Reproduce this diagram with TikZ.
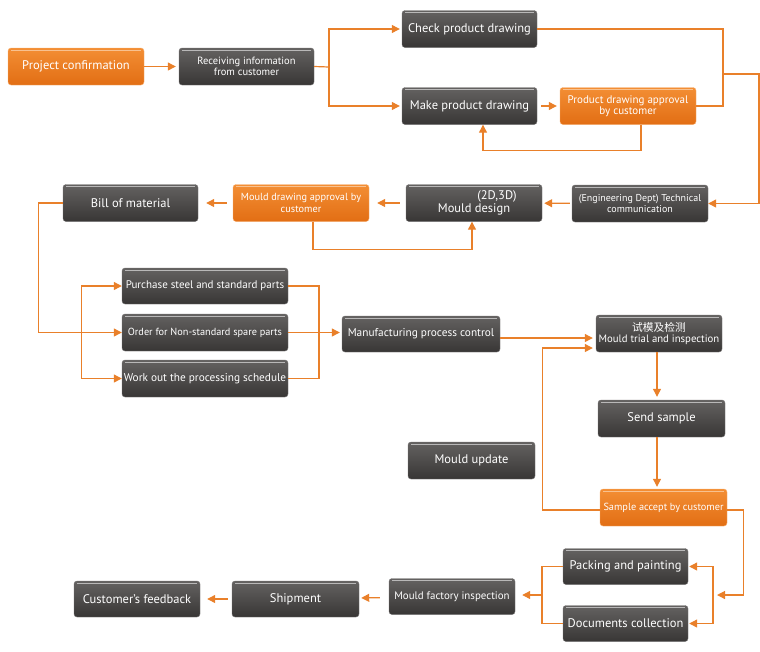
\documentclass[tikz,border=0pt]{standalone}
\usepackage{fontspec}
\setmainfont{PT Sans}
\newfontfamily\cjk{Noto Sans CJK SC}
\usetikzlibrary{arrows.meta,calc}
\definecolor{orangeline}{RGB}{233,128,42}
\definecolor{darktop}{RGB}{100,98,97}
\definecolor{darkbot}{RGB}{56,54,53}
\definecolor{orangetop}{RGB}{243,142,52}
\definecolor{orangebot}{RGB}{226,110,20}
\tikzstyle{box}=[rounded corners=3pt, minimum height=37pt, text=white, align=center, inner sep=1pt, font=\fontsize{12.5}{13}\selectfont]
\tikzstyle{dark}=[box, top color=darktop, bottom color=darkbot, draw=darkbot!70!white,
	path picture={\draw[white!55!darktop, line width=.7pt] ([xshift=3pt,yshift=-2pt]path picture bounding box.north west) -- ([xshift=-3pt,yshift=-2pt]path picture bounding box.north east);}]
\tikzstyle{orng}=[box, top color=orangetop, bottom color=orangebot, draw=orangetop!70!white,
	path picture={\draw[white!45!orangetop, line width=.7pt] ([xshift=3pt,yshift=-2pt]path picture bounding box.north west) -- ([xshift=-3pt,yshift=-2pt]path picture bounding box.north east);}]
\tikzset{fs/.style={font=\fontsize{#1}{11.5}\selectfont}}
\tikzstyle{line}=[draw=orangeline, line width=1.2pt]
\tikzstyle{flow}=[line, -{Triangle[length=8pt,width=8pt]}]

\begin{document}
\begin{tikzpicture}[x=1pt, y=-1pt]
	\useasboundingbox (0,0) rectangle (760,651);
%
	\node[orng, minimum width=136pt] (proj) at (76,66.5) {Project confirmation};
	\node[dark, fs=10.5, minimum width=135pt] (recv) at (246.5,66.5) {Receiving information\\from customer};
	\node[dark, minimum width=135pt] (check) at (469.5,29) {Check product drawing};
	\node[dark, minimum width=135pt] (make) at (469.5,106) {Make product drawing};
	\node[orng, fs=11, minimum width=136pt] (papp) at (628,106) {Product drawing approval\\by customer};
	\node[dark, fs=10, minimum width=136pt] (eng) at (640,203.5) {(Engineering Dept) Technical\\communication};
	\node[dark, minimum width=136pt] (mdes) at (474,203) {\hspace*{46pt}(2D,3D)\\Mould design};
	\node[orng, fs=10.3, minimum width=136pt] (mapp) at (301,203) {Mould drawing approval by\\customer};
	\node[dark, minimum width=135pt] (bom) at (130.5,203) {Bill of material};
%
	\node[dark, fs=11, minimum width=166pt, minimum height=36pt] (purch) at (205,286) {Purchase steel and standard parts};
	\node[dark, fs=10.3, minimum width=166pt] (order) at (205,332.5) {Order for Non-standard spare parts};
	\node[dark, fs=11.3, minimum width=166pt] (work) at (205,378.5) {Work out the processing schedule};
	\node[dark, fs=11.3, minimum width=158pt, minimum height=36pt] (manu) at (421,334) {Manufacturing process control};
%
	\node[dark, fs=10.75, minimum width=126pt] (trial) at (659,333.5) {{\cjk 试模及检测}\\Mould trial and inspection};
	\node[dark, minimum width=127pt] (send) at (661.5,418.5) {Send sample};
	\node[dark, minimum width=127pt] (upd) at (471.5,460.5) {Mould update};
	\node[orng, fs=10.3, minimum width=127pt] (acc) at (663.5,507.5) {Sample accept by customer};
%
	\node[dark, minimum width=125pt, minimum height=36pt] (pack) at (625.5,566.5) {Packing and painting};
	\node[dark, minimum width=125pt, minimum height=36pt] (docs) at (625.5,623.5) {Documents collection};
	\node[dark, fs=10.9, minimum width=126pt, minimum height=36pt] (mfi) at (452,596.5) {Mould factory inspection};
	\node[dark, minimum width=127pt, minimum height=36pt] (ship) at (295.5,599) {Shipment};
	\node[dark, minimum width=126pt, minimum height=36pt] (feed) at (137,599) {Customer's feedback};
%
	\coordinate (sp) at (329,67);
	\coordinate (jn) at (723,74);
	\coordinate (rt) at (759,74);
	\coordinate (jb) at (713,595);
	\coordinate (jl) at (542,595);
%
	\draw[flow, shorten >=3pt] (proj) -- (recv);
	\draw[line] (recv.east) -- (sp);
	\draw[flow, shorten >=2pt] (sp) |- (check.west);
	\draw[flow, shorten >=2pt] (sp) |- (make.west);
	\draw[flow, shorten <=4pt, shorten >=3pt] (make) -- (papp);
	\draw[flow] ([xshift=13pt]papp.south) -- ++(0,26) -| ([xshift=13.5pt]make.south);
	\draw[line] (check.east) -| (jn);
	\draw[line] (papp.east) -| (jn);
	\draw[flow] (jn) -- (rt) |- (eng.east);
%
	\draw[flow, shorten <=2pt, shorten >=2pt] (eng) -- (mdes);
	\draw[flow, shorten <=6pt, shorten >=8pt] (mdes) -- (mapp);
	\draw[flow, shorten <=6pt, shorten >=8pt] (mapp) -- (bom);
	\draw[flow] ([xshift=12pt]mapp.south) -- ++(0,28) -| ([xshift=-2pt]mdes.south);
%
	\draw[flow] (bom.west) -- ++(-24,0) |- (order.west);
	\path (order.west) ++(-40,0) coordinate (lb);
	\draw[flow] (lb) |- (purch.west);
	\draw[flow] (lb) |- (work.west);
	\coordinate (rb) at (319,333);
	\draw[line] (purch.east) -| (rb);
	\draw[line] (work.east) -| (rb);
	\draw[flow, shorten >=2pt] (order.east) -- (order.east -| manu.west);
%
	\draw[flow, shorten >=3pt] ([yshift=-4pt]manu.east) -- ([yshift=-4pt]manu.east -| trial.west);
	\draw[flow, shorten >=3pt] ([xshift=-2pt]trial.south) -- ([xshift=-4.5pt]send.north);
	\draw[flow, shorten >=2pt] ([xshift=-4.5pt]send.south) -- ([xshift=-6.5pt]acc.north);
	\draw[flow, shorten >=3pt] ([yshift=-2.5pt]acc.west) -- ++(-57,0) |- ([yshift=-14.5pt]trial.west);
%
	\draw[flow, shorten >=4pt] ([yshift=-2.5pt]acc.east) -- ++(16,0) |- (jb);
	\draw[flow, shorten >=1pt] (jb) |- (pack.east);
	\draw[flow, shorten >=1pt] (jb) |- (docs.east);
	\draw[line] (pack.west) -| (jl);
	\draw[line] (docs.west) -| (jl);
	\draw[flow, shorten >=7pt] (jl) -- (jl -| mfi.east);
	\draw[flow, shorten <=9pt, shorten >=2pt] (mfi) -- (ship);
	\draw[flow, shorten <=4pt, shorten >=7pt] (ship) -- (feed);
\end{tikzpicture}
\end{document}
